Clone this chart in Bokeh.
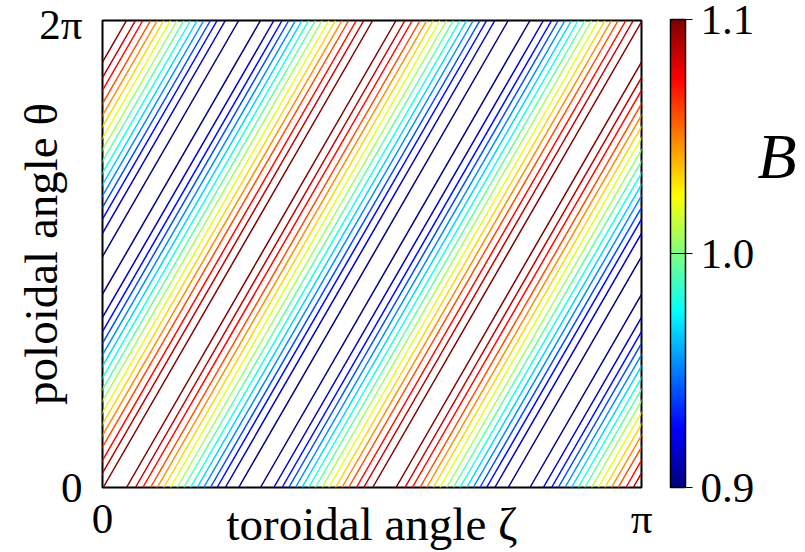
import numpy as np
from bokeh.plotting import figure
from bokeh.layouts import row
from bokeh.models import (Range1d, FixedTicker, CustomJSTickFormatter, ColorBar,
                          LinearColorMapper, PrintfTickFormatter, ColumnDataSource)
from bokeh.core.properties import value
from bokeh.transform import transform
from bokeh.embed import file_html
from bokeh.resources import INLINE

# ---- data ----
# contour levels of B, from highest to lowest
levels = [1.100, 1.087, 1.073, 1.060, 1.047, 1.033, 1.020, 1.007,
          0.993, 0.980, 0.967, 0.953, 0.940, 0.927, 0.913, 0.900]
# zeta distance (rad) of each contour from the B-maximum ridge, along theta = 0
ridge_offsets = [0.068, 0.120, 0.163, 0.208, 0.247, 0.285, 0.324, 0.363,
                 0.402, 0.441, 0.480, 0.518, 0.557, 0.596, 0.644, 0.722]
ridge_zeta0 = 0.072      # zeta of the B maximum at theta = 0
helicity = 4             # contours follow theta = 4 * (zeta - zeta_c)
x_ticks = [0, np.pi]
x_tick_labels = ["0", "π"]
y_ticks = [0, 2 * np.pi]
y_tick_labels = ["0", "2π"]
cbar_ticks = [0.9, 1.0, 1.1]
B_low, B_high = 0.9, 1.1
cbar_title = "B"

# ---- jet colormap ----
t = np.linspace(0, 1, 256)
def _c(v):
    return np.clip(v, 0, 1)
r = _c(1.5 - np.abs(4 * t - 3)); g = _c(1.5 - np.abs(4 * t - 2)); b = _c(1.5 - np.abs(4 * t - 1))
jet = ["#%02x%02x%02x" % (int(round(rr * 255)), int(round(gg * 255)), int(round(bb * 255)))
       for rr, gg, bb in zip(r, g, b)]
mapper = LinearColorMapper(palette=jet, low=B_low, high=B_high)

# ---- contour segments ----
period = 2 * np.pi / helicity
x0s, y0s, x1s, y1s, lv = [], [], [], [], []
for L, off in zip(levels, ridge_offsets):
    for sgn in (1, -1):
        for k in range(-3, 4):
            zc = ridge_zeta0 + sgn * off + k * period
            x0s.append(zc); y0s.append(0.0)
            x1s.append(zc + 2 * np.pi / helicity); y1s.append(2 * np.pi)
            lv.append(L)
src = ColumnDataSource(dict(x0=x0s, y0=y0s, x1=x1s, y1=y1s, level=lv))

FONT = "Liberation Serif"
W, H = 805, 552
SPLIT = 754                          # width of main figure; the rest holds the "B"
FL, FR, FT, FB = 102, 641, 20, 488   # frame edges in pixels

p = figure(width=SPLIT, height=H, output_backend="svg", toolbar_location=None,
           x_range=Range1d(0, np.pi), y_range=Range1d(0, 2 * np.pi),
           min_border_left=FL, min_border_right=SPLIT - FR, min_border_top=FT,
           min_border_bottom=H - FB)
p.background_fill_color = "white"
p.border_fill_color = "white"
p.outline_line_color = "black"
p.outline_line_width = 2
p.grid.visible = False

p.segment(x0="x0", y0="y0", x1="x1", y1="y1", source=src,
          line_color=transform("level", mapper), line_width=1.5)

fmt_code = "for (let i=0;i<t.length;i++){ if (Math.abs(tick-t[i])<1e-6) return l[i]; } return '';"
xfmt = CustomJSTickFormatter(args=dict(t=x_ticks, l=x_tick_labels), code=fmt_code)
yfmt = CustomJSTickFormatter(args=dict(t=y_ticks, l=y_tick_labels), code=fmt_code)

for ax, tk, fm in ((p.xaxis[0], x_ticks, xfmt), (p.yaxis[0], y_ticks, yfmt)):
    ax.ticker = FixedTicker(ticks=tk)
    ax.formatter = fm
    ax.major_tick_in = 0
    ax.major_tick_out = 0
    ax.minor_tick_in = 0
    ax.minor_tick_out = 0
    ax.axis_line_color = None
    ax.major_label_text_font = FONT
    ax.major_label_text_font_size = "43px"
    ax.major_label_text_color = "black"
    ax.axis_label_text_font = FONT
    ax.axis_label_text_font_size = "47px"
    ax.axis_label_text_font_style = "normal"
    ax.axis_label_text_color = "black"

p.xaxis.axis_label = "toroidal angle ζ"
p.xaxis.major_label_standoff = 7
p.xaxis.axis_label_standoff = -47
p.yaxis.axis_label = "poloidal angle θ"
p.yaxis.major_label_standoff = 20
p.yaxis.axis_label_standoff = -31

cb = ColorBar(color_mapper=mapper, ticker=FixedTicker(ticks=cbar_ticks),
              formatter=PrintfTickFormatter(format="%.1f"),
              width=15, height=FB - FT, location=(670 - FL, 0), margin=0, padding=0,
              bar_line_color="black", bar_line_width=1.5,
              major_tick_in=15, major_tick_out=7, major_tick_line_color="black",
              minor_tick_line_color=None,
              major_label_text_font=FONT, major_label_text_font_size="43px",
              major_label_text_color="black", label_standoff=8,
              background_fill_color=None, border_line_color=None)
p.add_layout(cb, "center")

# narrow side figure carrying the colour-scale title "B"
pw = W - SPLIT
p2 = figure(width=pw, height=H, output_backend="svg", toolbar_location=None,
            x_range=Range1d(0, pw), y_range=Range1d(0, H),
            x_axis_type=None, y_axis_type=None, min_border=0)
p2.outline_line_color = None
p2.grid.visible = False
p2.background_fill_color = "white"
p2.border_fill_color = "white"
p2.text(x=[757 - SPLIT], y=[H - 161], text=[cbar_title],
        text_font=value(FONT), text_font_style="italic", text_font_size="64px",
        text_baseline="alphabetic", text_align="left", text_color="black")

layout = row(p, p2, spacing=0)
open("out.html", "w").write(file_html(layout, INLINE))
